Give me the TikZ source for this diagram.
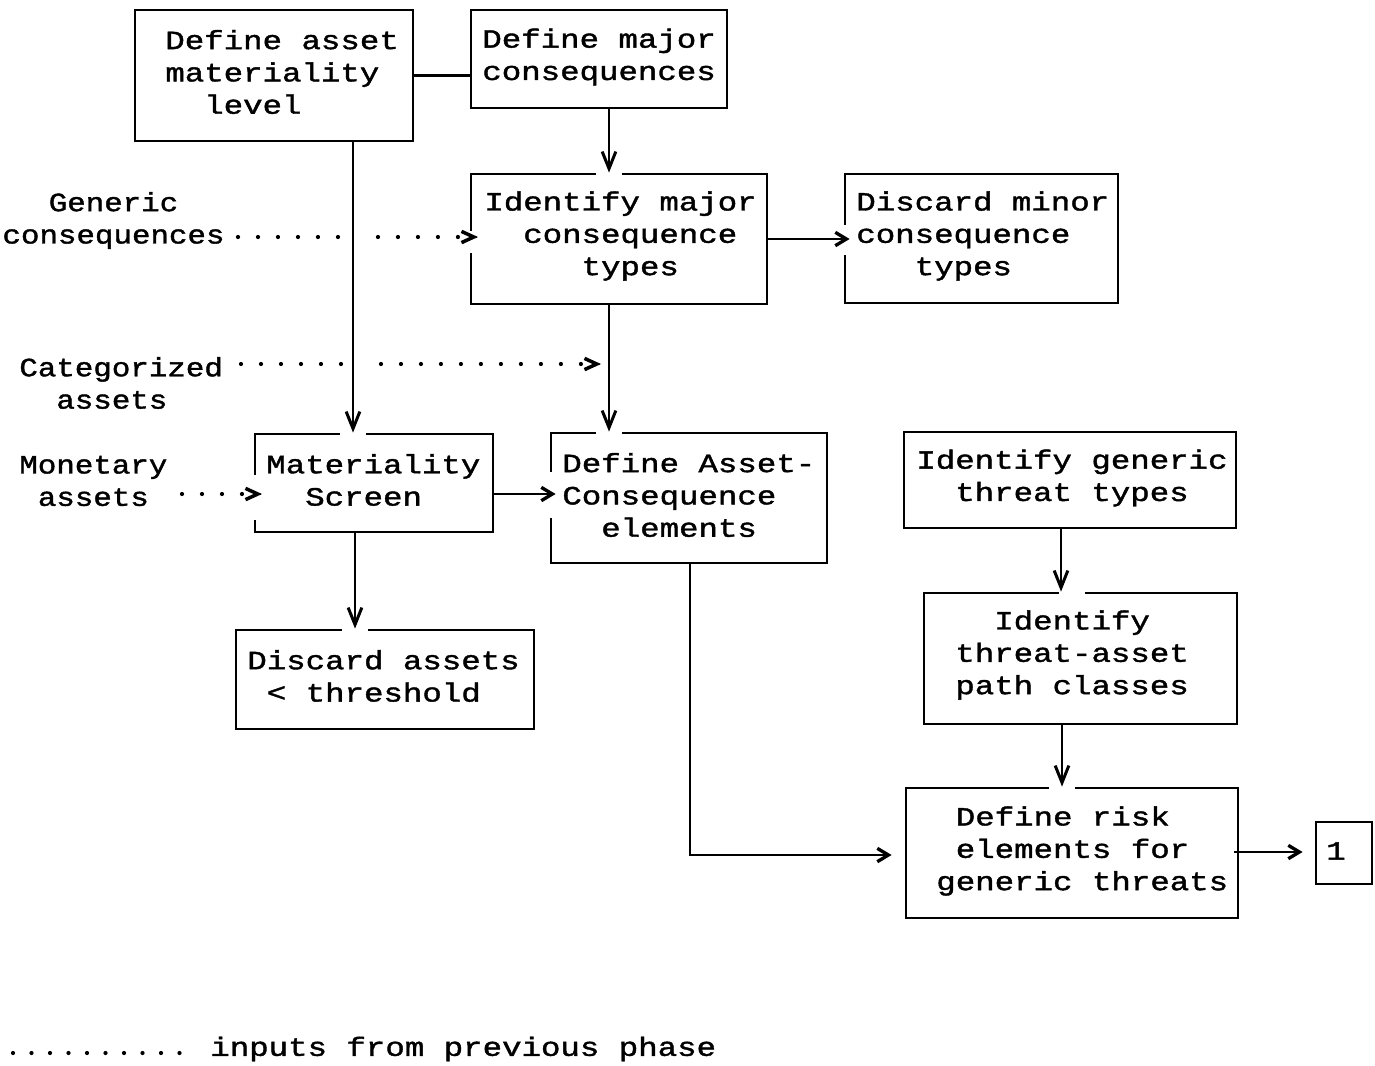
\documentclass[tikz,border=0pt]{standalone}
\usepackage{fontspec}
\setmainfont{Liberation Mono}
\newfontfamily\boxfont[FakeStretch=1.23,FakeBold=1.5]{Liberation Mono}
\newfontfamily\lblfont[FakeStretch=1.17,FakeBold=1.5]{Liberation Mono}
\usetikzlibrary{arrows.meta,backgrounds}
\newdimen\pxu \pxu=0.02cm
\begin{document}
\begin{tikzpicture}[x=0.02cm,y=-0.02cm,
  box/.style={draw, line width=1.6pt, inner sep=0pt},
  txt/.style={font={\boxfont\fontsize{15}{18.4}\selectfont}, align=left, inner sep=0pt, anchor=west},
  lbl/.style={font={\lblfont\fontsize{15}{18.4}\selectfont}, align=left, inner sep=0pt, anchor=west},
  conn/.style={line width=1.5pt},
  harrow/.style={conn, -{Straight Barb[length=6.3pt,width=7.6pt,line width=1.9pt]}},
  varrow/.style={conn, -{Straight Barb[length=9.7pt,width=7.8pt,line width=1.7pt]}},
  dotline/.style={line width=2.4pt, line cap=round, dash pattern=on 0pt off 11.38pt},
  dottip/.style={line width=0.5pt, -{Straight Barb[length=7pt,width=6.4pt,line width=2pt]}},
  gap/.style={fill=white, draw=none}
]
\useasboundingbox (0,0) rectangle (1375,1065);

% boxes
\node[box, minimum width=278\pxu, minimum height=131\pxu] (A) at (274,75.5) {};
\node[box, minimum width=256\pxu, minimum height=98\pxu] (B) at (599,59) {};
\node[box, minimum width=296\pxu, minimum height=130\pxu] (C) at (619,239) {};
\node[box, minimum width=273\pxu, minimum height=129\pxu] (D) at (981.5,238.5) {};
\node[box, minimum width=238\pxu, minimum height=98\pxu] (E) at (374,483) {};
\node[box, minimum width=276\pxu, minimum height=130\pxu] (F) at (689,498) {};
\node[box, minimum width=298\pxu, minimum height=99\pxu] (G) at (385,679.5) {};
\node[box, minimum width=332\pxu, minimum height=96\pxu] (H) at (1070,480) {};
\node[box, minimum width=313\pxu, minimum height=131\pxu] (I) at (1080.5,658.5) {};
\node[box, minimum width=332\pxu, minimum height=130\pxu] (J) at (1072,853) {};
\node[box, minimum width=56\pxu, minimum height=62\pxu] (K) at (1344,853) {};

% box texts
\node[txt] (At) at (165,72) {Define asset\\materiality\\\hphantom{xx}level};
\node[txt] (Bt) at (482,57) {Define major\\consequences};
\node[txt] (Ct) at (484,236) {Identify major\\\hphantom{xx}consequence\\\hphantom{xxxxx}types};
\node[txt] (Dt) at (856,236) {Discard minor\\consequence\\\hphantom{xxx}types};
\node[txt] (Et) at (266,480) {Materiality\\\hphantom{xx}Screen};
\node[txt] (Ft) at (562,495) {Define Asset-\\Consequence\\\hphantom{xx}elements};
\node[txt] (Gt) at (247,676) {Discard assets\\\hphantom{x}< threshold};
\node[txt] (Ht) at (916,478) {Identify generic\\\hphantom{xx}threat types};
\node[txt] (It) at (955,655) {\hphantom{xx}Identify\\threat-asset\\path classes};
\node[txt] (Jt) at (936,851) {\hphantom{x}Define risk\\\hphantom{x}elements for\\generic threats};
\node[txt, anchor=center] (Kt) at (1336,851) {1};

% input labels
\node[lbl, align=center, anchor=center] (gen) at (113.5,220.5) {Generic\\consequences};
\node[lbl] (cat) at (19,383) {Categorized\\\hphantom{xx}assets};
\node[lbl] (mon) at (19,481) {Monetary\\\hphantom{x}assets};
\node[lbl, font={\boxfont\fontsize{15}{18.4}\selectfont}] (leg) at (210,1049) {inputs from previous phase};

\coordinate (g0) at (238,237);
\coordinate (g1) at (459,237);
\coordinate (g2) at (478,237);
\coordinate (c0) at (241,364);
\coordinate (c1) at (582,364);
\coordinate (c2) at (601,364);
\coordinate (m0) at (182,494);
\coordinate (m1) at (243,494);
\coordinate (m2) at (262,494);
\coordinate (l0) at (13,1053);
\coordinate (l1) at (185,1053);

% dotted inputs (background) and the gap round the vertical line
\begin{pgfonlayer}{background}
\draw[dotline] (g0) -- (g1);
\draw[dotline] (c0) -- (c1);
\draw[white, line width=11.4pt, shorten <=15\pxu, shorten >=15\pxu] ([xshift=79\pxu]A.south) -- ([xshift=-21\pxu]E.north);
\end{pgfonlayer}
\draw[dotline] (m0) -- (m1);
\draw[dotline, dash pattern=on 0pt off 10.53pt] (l0) -- (l1);

% gaps in the box edges where arrow heads meet them
\fill[gap] ([xshift=-23\pxu,yshift=-4\pxu]C.north) rectangle ([xshift=3\pxu,yshift=4\pxu]C.north);
\fill[gap] ([xshift=-93\pxu,yshift=-4\pxu]F.north) rectangle ([xshift=-67\pxu,yshift=4\pxu]F.north);
\fill[gap] ([xshift=-34\pxu,yshift=-4\pxu]E.north) rectangle ([xshift=-8\pxu,yshift=4\pxu]E.north);
\fill[gap] ([xshift=-43\pxu,yshift=-4\pxu]G.north) rectangle ([xshift=-17\pxu,yshift=4\pxu]G.north);
\fill[gap] ([xshift=-22\pxu,yshift=-4\pxu]I.north) rectangle ([xshift=4\pxu,yshift=4\pxu]I.north);
\fill[gap] ([xshift=-23\pxu,yshift=-4\pxu]J.north) rectangle ([xshift=3\pxu,yshift=4\pxu]J.north);
\fill[gap] ([xshift=-4\pxu,yshift=-14\pxu]C.west) rectangle ([xshift=4\pxu,yshift=8\pxu]C.west);
\fill[gap] ([xshift=-4\pxu,yshift=-16\pxu]D.west) rectangle ([xshift=4\pxu,yshift=14\pxu]D.west);
\fill[gap] ([xshift=-4\pxu,yshift=-37\pxu]E.west) rectangle ([xshift=4\pxu,yshift=8\pxu]E.west);
\fill[gap] ([xshift=-4\pxu,yshift=-20\pxu]F.west) rectangle ([xshift=4\pxu,yshift=26\pxu]F.west);

% heads of the dotted inputs
\draw[dottip] ([xshift=-1\pxu]g2) -- (g2);
\draw[dottip] ([xshift=-1\pxu]c2) -- (c2);
\draw[dottip] ([xshift=-1\pxu]m2) -- (m2);

% connectors
\draw[conn] (A.east) -- (A.east -| B.west);
\draw[varrow] ([xshift=10\pxu]B.south) -- ([xshift=-10\pxu]C.north);
\draw[varrow] ([xshift=79\pxu]A.south) -- ([xshift=-21\pxu]E.north);
\draw[varrow] ([xshift=-10\pxu]C.south) -- ([xshift=-80\pxu]F.north);
\draw[harrow, shorten >=-6\pxu] (C.east) -- (C.east -| D.west);
\draw[harrow, shorten >=-6\pxu] ([yshift=-11\pxu]E.east) -- ([yshift=-11\pxu]E.east -| F.west);
\draw[varrow] ([xshift=-19\pxu]E.south) -- ([xshift=-30\pxu]G.north);
\draw[harrow, shorten >=13\pxu] ([xshift=1\pxu]F.south) |- ([yshift=-2\pxu]J.west);
\draw[varrow] ([xshift=-9\pxu]H.south) -- ([xshift=-19.5\pxu]I.north);
\draw[varrow] ([xshift=-18.5\pxu]I.south) -- ([xshift=-10\pxu]J.north);
\draw[harrow, shorten <=-5\pxu, shorten >=12\pxu] ([yshift=1\pxu]J.east) -- ([yshift=1\pxu]J.east -| K.west);
\end{tikzpicture}
\end{document}
